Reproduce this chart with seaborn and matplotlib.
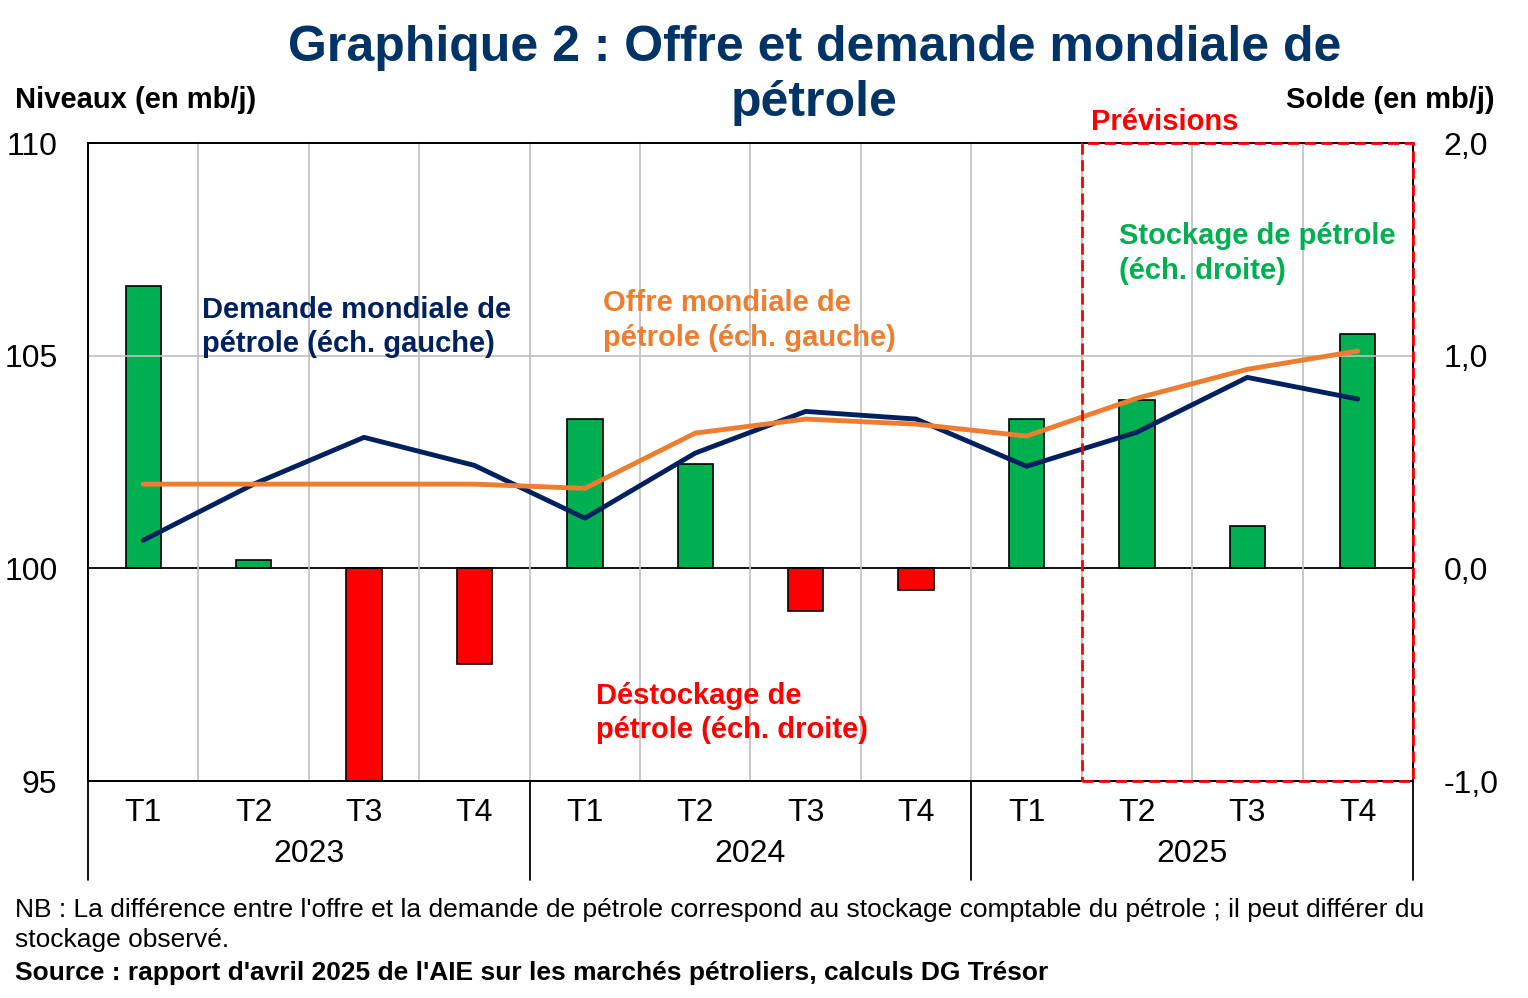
import matplotlib
matplotlib.use("Agg")
import matplotlib.pyplot as plt
import seaborn as sns
import pandas as pd
import numpy as np
from matplotlib.patches import Rectangle

quarters = ["T1", "T2", "T3", "T4"] * 3
years = ["2023", "2024", "2025"]
solde = [1.33, 0.04, -1.0, -0.45, 0.70, 0.49, -0.20, -0.10, 0.70, 0.79, 0.20, 1.10]
demande = [100.66, 101.98, 103.08, 102.42, 101.18, 102.71, 103.69, 103.51, 102.40, 103.20, 104.49, 103.98]
offre = [101.98, 101.98, 101.98, 101.98, 101.88, 103.18, 103.51, 103.39, 103.11, 104.00, 104.68, 105.11]

sns.set_style("white")
plt.rcParams["font.family"] = ["Liberation Sans", "DejaVu Sans"]
plt.rcParams["text.color"] = "black"
plt.rcParams["xtick.color"] = "black"
plt.rcParams["ytick.color"] = "black"

n = len(solde)
df = pd.DataFrame({"i": np.arange(n), "solde": solde, "demande": demande, "offre": offre,
                   "signe": ["pos" if s >= 0 else "neg" for s in solde]})

fig = plt.figure(figsize=(15.28, 9.98), dpi=100)
ax = fig.add_axes([0.0576, 0.2174, 0.8671, 0.6393])
ax2 = ax.twinx()

ax.set_ylim(95, 110)
ax2.set_ylim(-1.0, 2.0)
for k in range(1, n):
    ax.axvline(k - 0.5, color="#bfbfbf", lw=1.2, zorder=0)
ax.axhline(105, color="#bfbfbf", lw=1.2, zorder=0)

sns.barplot(data=df, x="i", y="solde", hue="signe", palette={"pos": "#00b050", "neg": "#ff0000"},
            dodge=False, width=0.32, saturation=1, edgecolor="black", linewidth=1.2, legend=False, ax=ax2, zorder=2)
ax2.axhline(0, color="black", lw=1.3, zorder=3)

ax.set_zorder(ax2.get_zorder() + 1)
ax.patch.set_visible(False)
sns.lineplot(x=df["i"], y=df["demande"], color="#002060", lw=3.5, ax=ax)
sns.lineplot(x=df["i"], y=df["offre"], color="#ed7d31", lw=3.5, ax=ax)

ax.set_xlim(-0.5, n - 0.5)
ax2.set_xlim(-0.5, n - 0.5)
ax.set_xticks(range(n))
ax.set_xticklabels(quarters, fontsize=23)
ax.tick_params(axis="x", length=0, pad=12)
ax.set_yticks([95, 100, 105, 110])
ax.set_yticklabels(["95", "100", "105", "110"], fontsize=23)
ax2.set_yticks([-1, 0, 1, 2])
ax2.set_yticklabels(["-1,0", "0,0", "1,0", "2,0"], fontsize=23)
ax.tick_params(axis="y", length=0, pad=22)
ax2.tick_params(axis="y", length=0, pad=22)
ax.set_xlabel(""); ax.set_ylabel(""); ax2.set_ylabel(""); ax2.set_xlabel("")
for a in (ax, ax2):
    for s in a.spines.values():
        s.set_color("black"); s.set_linewidth(1.3)

for b in [-0.5, 3.5, 7.5, 11.5]:
    ax.plot([b, b], [0, -0.155], transform=ax.get_xaxis_transform(), color="black", lw=1.3, clip_on=False)
for j, y in enumerate(years):
    ax.text(4 * j + 1.5, -0.115, y, transform=ax.get_xaxis_transform(), ha="center", va="center", fontsize=23)

ax.add_patch(Rectangle((8.5, 95), 3.0, 15, fill=False, ec="#ff0000", ls=(0, (4, 2)), lw=2, clip_on=False, zorder=5))
ax.text(9.25, 110.5, "Prévisions", color="#ff0000", fontsize=21, fontweight="bold", ha="center", va="center")

kw = dict(fontsize=21, fontweight="bold", va="center", linespacing=1.3)
ax.text(0.53, 105.67, "Demande mondiale de\npétrole (éch. gauche)", color="#002060", **kw)
ax.text(4.16, 105.83, "Offre mondiale de\npétrole (éch. gauche)", color="#ed7d31", **kw)
ax.text(8.84, 107.4, "Stockage de pétrole\n(éch. droite)", color="#00b050", **kw)
ax.text(4.1, 96.6, "Déstockage de\npétrole (éch. droite)", color="#ff0000", **kw)

fig.text(0.533, 0.975, "Graphique 2 : Offre et demande mondiale de\npétrole", color="#003366", fontsize=36,
         fontweight="bold", ha="center", va="top", linespacing=1.25)
fig.text(0.01, 0.9, "Niveaux (en mb/j)", fontsize=21, fontweight="bold", va="center")
fig.text(0.978, 0.9, "Solde (en mb/j)", fontsize=21, fontweight="bold", va="center", ha="right")
fig.text(0.01, 0.073, "NB : La différence entre l'offre et la demande de pétrole correspond au stockage comptable du pétrole ; il peut différer du\nstockage observé.",
         fontsize=19, va="center", linespacing=1.3)
fig.text(0.01, 0.025, "Source : rapport d'avril 2025 de l'AIE sur les marchés pétroliers, calculs DG Trésor", fontsize=19,
         fontweight="bold", va="center")

fig.savefig("out.png", dpi=100)
